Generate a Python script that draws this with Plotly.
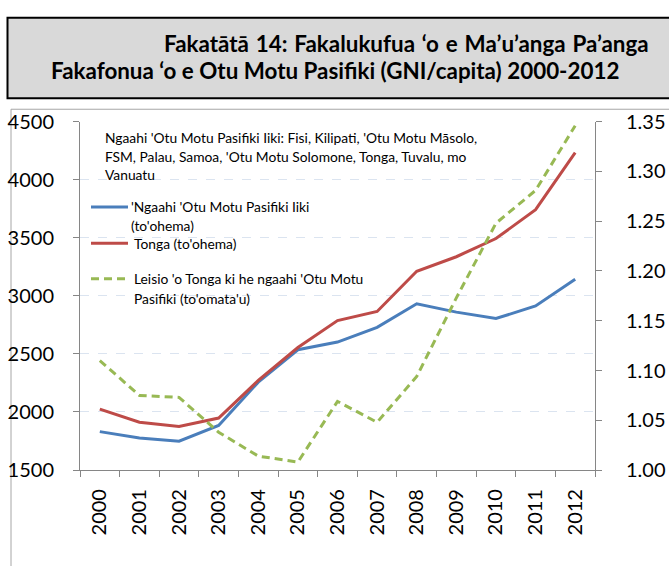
import plotly.graph_objects as go

W, H = 669, 566

years = ["2000", "2001", "2002", "2003", "2004", "2005", "2006",
         "2007", "2008", "2009", "2010", "2011", "2012"]
small_islands = [1831, 1776, 1749, 1884, 2257, 2536, 2602, 2729, 2932, 2860, 2805, 2913, 3144]
tonga = [2025, 1912, 1876, 1948, 2272, 2555, 2787, 2866, 3212, 3337, 3494, 3742, 4233]
ratio = [1.110, 1.075, 1.073, 1.038, 1.014, 1.008, 1.069, 1.048, 1.094, 1.173, 1.248, 1.281, 1.346]

title_words1 = ["Fakatātā", "14:", "Fakalukufua", "‘o", "e", "Ma’u’anga", "Pa’anga"]
title_line2 = "Fakafonua ‘o e Otu Motu Pasifiki (GNI/capita) 2000-2012"
note_lines = ["Ngaahi 'Otu Motu Pasifiki Iiki: Fisi, Kilipati, 'Otu Motu Māsolo,",
              "FSM, Palau, Samoa, 'Otu Motu Solomone, Tonga, Tuvalu, mo",
              "Vanuatu"]
legend_blue = ["'Ngaahi 'Otu Motu Pasifiki Iiki", "(to'ohema)"]
legend_red = ["Tonga (to'ohema)"]
legend_green = ["Leisio 'o Tonga ki he ngaahi 'Otu Motu", "Pasifiki (to'omata'u)"]

BLUE, RED, GREEN = "#4a7ebb", "#be4b48", "#98b954"
FONT = "Lato"
TXT = 13.8


def px(x):
    return x / W


def py(y):
    return 1 - y / H


fig = go.Figure()
fig.add_trace(go.Scatter(x=years, y=small_islands, mode="lines",
                         line=dict(color=BLUE, width=3), showlegend=False))
fig.add_trace(go.Scatter(x=years, y=tonga, mode="lines",
                         line=dict(color=RED, width=3), showlegend=False))
fig.add_trace(go.Scatter(x=years, y=ratio, mode="lines", yaxis="y2",
                         line=dict(color=GREEN, width=3, dash="8px,5px"), showlegend=False))

axis_col = "#868686"
fig.update_layout(
    width=W, height=H, autosize=False,
    margin=dict(l=0, r=0, t=0, b=0),
    paper_bgcolor="white", plot_bgcolor="white",
    font=dict(family=FONT, color="#000000"),
    xaxis=dict(domain=[px(80), px(595)], type="category", range=[-0.5, 12.5],
               tickson="boundaries", ticks="outside", ticklen=6, tickcolor=axis_col,
               showline=True, linecolor=axis_col, linewidth=1, showgrid=False,
               tickangle=-90, tickfont=dict(size=20, family=FONT),
               ticklabelstandoff=10, anchor="y"),
    yaxis=dict(domain=[py(477.3), py(113.5)], range=[1500, 4500], dtick=500,
               ticks="outside", ticklen=6, tickcolor=axis_col,
               showline=True, linecolor=axis_col, linewidth=1,
               showgrid=True, gridcolor="#dbe4f0", griddash="dash", gridwidth=1,
               zeroline=False, tickfont=dict(size=20, family=FONT),
               ticklabelstandoff=15),
    yaxis2=dict(overlaying="y", side="right", anchor="x", range=[1.0, 1.35], dtick=0.05,
                tickformat=".2f", ticks="outside", ticklen=6, tickcolor=axis_col,
                showline=True, linecolor=axis_col, linewidth=1, showgrid=False,
                zeroline=False, tickfont=dict(size=20, family=FONT),
                ticklabelstandoff=20),
)

shapes = [
    # title box
    dict(type="rect", xref="paper", yref="paper", x0=px(7.5), x1=px(700), y0=py(89), y1=py(5),
         fillcolor="#d9d9d9", line=dict(color="#000000", width=2), layer="below"),
    # chart frame
    dict(type="rect", xref="paper", yref="paper", x0=px(11), x1=px(720), y0=py(620), y1=py(100.5),
         fillcolor="rgba(0,0,0,0)", line=dict(color="#a6a6a6", width=1), layer="below"),
    # legend swatches
    dict(type="line", xref="paper", yref="paper", x0=px(91), x1=px(128), y0=py(202.5), y1=py(202.5),
         line=dict(color=BLUE, width=3)),
    dict(type="line", xref="paper", yref="paper", x0=px(91), x1=px(128), y0=py(240.5), y1=py(240.5),
         line=dict(color=RED, width=3)),
    dict(type="line", xref="paper", yref="paper", x0=px(91), x1=px(127), y0=py(277.5), y1=py(277.5),
         line=dict(color=GREEN, width=3, dash="8px,5px")),
]
fig.update_layout(shapes=shapes)

title_line1 = " \u200a".join(title_words1)

ann = []
ann.append(dict(text="<b>" + title_line1 + "</b>", x=px(651), y=py(32), xanchor="right",
                yanchor="middle", font=dict(size=22.4, family=FONT)))
ann.append(dict(text="<b>" + title_line2 + "</b>", x=px(49), y=py(60), xanchor="left",
                yanchor="middle", font=dict(size=22.4, family=FONT)))
for t, yy in zip(note_lines, [130, 149.5, 169]):
    ann.append(dict(text=t, x=px(103), y=py(yy), xanchor="left", yanchor="middle",
                    font=dict(size=TXT, family=FONT)))
for t, yy in zip(legend_blue, [202, 222]):
    ann.append(dict(text=t, x=px(129), y=py(yy), xanchor="left", yanchor="middle",
                    font=dict(size=TXT, family=FONT)))
for t, yy in zip(legend_red, [240.5]):
    ann.append(dict(text=t, x=px(132), y=py(yy), xanchor="left", yanchor="middle",
                    font=dict(size=TXT, family=FONT)))
for t, yy in zip(legend_green, [277.5, 298]):
    ann.append(dict(text=t, x=px(132), y=py(yy), xanchor="left", yanchor="middle",
                    font=dict(size=TXT, family=FONT)))
for a in ann:
    a.update(xref="paper", yref="paper", showarrow=False)
fig.update_layout(annotations=ann)

post = ("document.documentElement.style.margin='0';document.body.style.margin='0';"
        "document.documentElement.style.overflow='hidden';document.body.style.overflow='hidden';")
fig.write_html("out.html", post_script=post, config={"displayModeBar": False})
